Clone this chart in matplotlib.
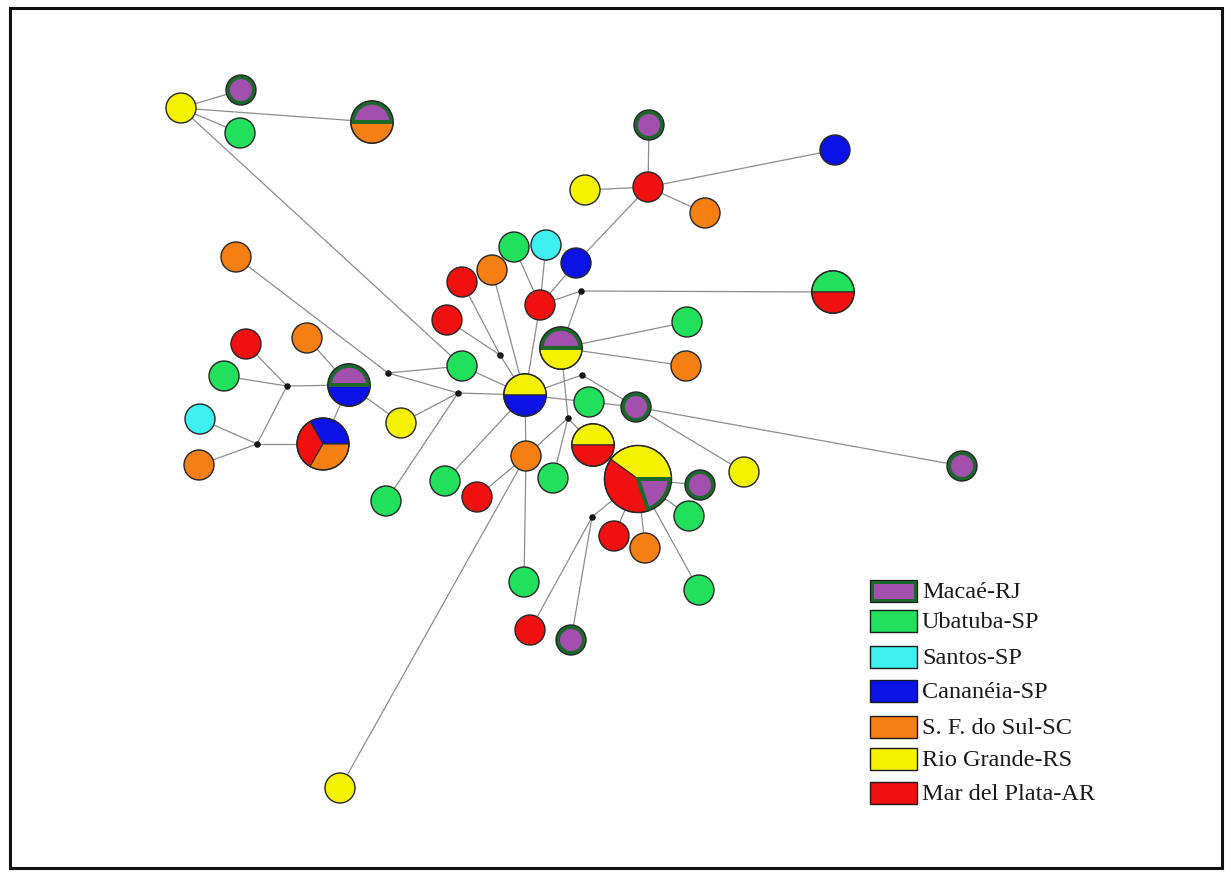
import numpy as np
import matplotlib.pyplot as plt
from matplotlib.patches import Circle, Wedge, Rectangle

# populations and their colours
pop_codes = ["MA", "UB", "SA", "CA", "SF", "RG", "MP"]
pop_names = ["Macaé-RJ", "Ubatuba-SP", "Santos-SP", "Cananéia-SP",
             "S. F. do Sul-SC", "Rio Grande-RS", "Mar del Plata-AR"]
pop_colors = ["#a24fae", "#21e05c", "#3ef0f0", "#0a12e6",
              "#f57f12", "#f5f200", "#f01010"]
macae_ring = "#1b6a2a"

# haplotype layout (x, y) and composition (population, number of sequences)
hap_x = [181, 241, 240, 372, 649, 648, 585, 705, 835, 236,
         514, 546, 576, 492, 462, 540, 447, 833, 561, 687,
         686, 246, 307, 224, 200, 199, 349, 323, 401, 462,
         525, 589, 636, 593, 526, 553, 445, 477, 386, 638,
         700, 744, 689, 614, 645, 699, 524, 530, 571, 962, 340]
hap_y = [108, 90, 133, 122, 125, 187, 190, 213, 150, 257,
         247, 245, 263, 270, 282, 305, 320, 292, 348, 322,
         366, 344, 338, 376, 419, 465, 385, 444, 423, 366,
         395, 402, 407, 445, 456, 478, 481, 497, 501, 479,
         485, 472, 516, 536, 548, 590, 582, 630, 640, 466, 788]
hap_comp = [
    [("RG", 1)], [("MA", 1)], [("UB", 1)], [("MA", 1), ("SF", 1)],
    [("MA", 1)], [("MP", 1)], [("RG", 1)], [("SF", 1)], [("CA", 1)],
    [("SF", 1)], [("UB", 1)], [("SA", 1)], [("CA", 1)], [("SF", 1)],
    [("MP", 1)], [("MP", 1)], [("MP", 1)], [("UB", 1), ("MP", 1)],
    [("MA", 1), ("RG", 1)], [("UB", 1)], [("SF", 1)], [("MP", 1)],
    [("SF", 1)], [("UB", 1)], [("SA", 1)], [("SF", 1)],
    [("MA", 1), ("CA", 1)], [("CA", 1), ("MP", 1), ("SF", 1)],
    [("RG", 1)], [("UB", 1)], [("RG", 1), ("CA", 1)], [("UB", 1)],
    [("MA", 1)], [("RG", 1), ("MP", 1)], [("SF", 1)], [("UB", 1)],
    [("UB", 1)], [("MP", 1)], [("UB", 1)],
    [("RG", 2), ("MP", 2), ("MA", 1)],
    [("MA", 1)], [("RG", 1)], [("UB", 1)], [("MP", 1)], [("SF", 1)],
    [("UB", 1)], [("UB", 1)], [("MP", 1)], [("MA", 1)], [("MA", 1)],
    [("RG", 1)],
]

# median vectors (missing haplotypes)
mv_x = [581, 500, 388, 458, 287, 257, 568, 582, 592]
mv_y = [291, 355, 373, 393, 386, 444, 418, 375, 517]

# links; "h" = haplotype index (1-based), "v" = median vector index (1-based)
links = [
    ("h1", "h2"), ("h1", "h3"), ("h1", "h4"), ("h1", "h30"),
    ("h6", "h5"), ("h6", "h7"), ("h6", "h8"), ("h6", "h9"), ("h6", "h13"),
    ("h16", "h11"), ("h16", "h12"), ("h16", "h13"), ("h16", "v1"), ("h16", "h31"),
    ("v1", "h18"), ("v1", "h19"), ("h19", "h20"), ("h19", "h21"),
    ("h14", "h31"), ("h15", "v2"), ("h17", "v2"), ("v2", "h31"),
    ("h10", "v3"), ("v3", "h30"), ("v3", "v4"), ("h30", "h31"),
    ("v4", "h29"), ("v4", "h31"), ("v4", "h39"),
    ("h27", "h29"), ("h27", "v5"), ("h27", "h28"), ("h23", "h27"),
    ("v5", "h24"), ("v5", "h22"), ("v5", "v6"),
    ("v6", "h25"), ("v6", "h26"), ("v6", "h28"),
    ("h31", "h37"), ("h31", "h35"), ("h31", "v8"), ("h31", "h32"),
    ("v8", "h33"), ("h32", "h33"), ("h33", "h50"), ("h33", "h42"),
    ("h35", "h38"), ("h35", "h47"), ("h35", "h51"), ("h35", "v7"),
    ("v7", "h36"), ("v7", "h19"), ("v7", "h34"), ("h34", "h40"),
    ("h40", "h41"), ("h40", "h43"), ("h40", "h44"), ("h40", "h45"),
    ("h40", "h46"), ("h40", "v9"), ("v9", "h48"), ("v9", "h49"),
]


def node_xy(key):
    i = int(key[1:]) - 1
    if key[0] == "h":
        return hap_x[i], hap_y[i]
    return mv_x[i], mv_y[i]


fig = plt.figure(figsize=(12.32, 8.73), dpi=100)
ax = fig.add_axes([0, 0, 1, 1])
ax.set_xlim(0, 1232)
ax.set_ylim(873, 0)
ax.axis("off")

# outer frame
ax.add_patch(Rectangle((10, 8), 1212, 860, fill=False, edgecolor="#111111",
                       linewidth=2.2, zorder=1))

# links under the nodes
for a, b in links:
    xa, ya = node_xy(a)
    xb, yb = node_xy(b)
    ax.plot([xa, xb], [ya, yb], color="#8c8c8c", linewidth=0.9, zorder=2)

color_of = dict(zip(pop_codes, pop_colors))
unit_r = 15.0
ring_px = 4.0
ring_lw = ring_px * 72 / 100

for x, y, comp in zip(hap_x, hap_y, hap_comp):
    total = sum(n for _, n in comp)
    r = unit_r * np.sqrt(total)
    start = 0.0
    for code, n in comp:
        span = 360.0 * n / total
        # screen angles run counter-clockwise, y axis is inverted
        t1, t2 = -(start + span), -start
        if code == "MA":
            if total == 1:
                ax.add_patch(Circle((x, y), r - ring_px / 2, facecolor=color_of[code],
                                    edgecolor=macae_ring, linewidth=ring_lw, zorder=3))
            else:
                ax.add_patch(Wedge((x, y), r - ring_px / 2, t1, t2,
                                   facecolor=color_of[code], edgecolor=macae_ring,
                                   linewidth=ring_lw, zorder=4))
        else:
            if total == 1:
                ax.add_patch(Circle((x, y), r, facecolor=color_of[code],
                                    edgecolor="none", zorder=3))
            else:
                ax.add_patch(Wedge((x, y), r, t1, t2, facecolor=color_of[code],
                                   edgecolor="#2a2a2a", linewidth=0.8, zorder=3))
        start += span
    ax.add_patch(Circle((x, y), r, fill=False, edgecolor="#262626",
                        linewidth=1.0, zorder=5))

ax.scatter(mv_x, mv_y, s=22, color="#151515", zorder=6, linewidths=0)

# legend
leg_y = [591, 621, 657, 691, 727, 759, 793]
for code, name, yc in zip(pop_codes, pop_names, leg_y):
    if code == "MA":
        ax.add_patch(Rectangle((871.5, yc - 9.5), 44, 19, facecolor=color_of[code],
                               edgecolor=macae_ring, linewidth=ring_lw, zorder=3))
        ax.add_patch(Rectangle((870, yc - 11), 47, 22, fill=False,
                               edgecolor="#1a1a1a", linewidth=0.9, zorder=4))
    else:
        ax.add_patch(Rectangle((870, yc - 11), 47, 22, facecolor=color_of[code],
                               edgecolor="#1a1a1a", linewidth=1.0, zorder=3))
    ax.text(922, yc + 1, name, fontsize=17.5, family="Liberation Serif",
            color="#1a1a1a", va="center", ha="left", zorder=5)

fig.savefig("out.png", dpi=100, facecolor="white")
